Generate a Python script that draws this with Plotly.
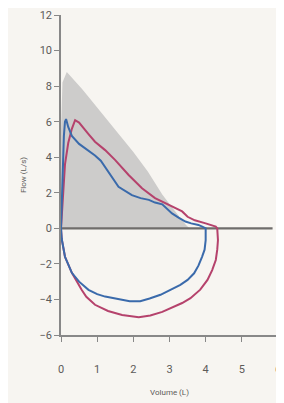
import plotly.graph_objects as go

# Predicted (normal) envelope - gray area
pred_vol = [0, 0.0, 0.04, 0.16, 0.6, 1.0, 1.5, 2.0, 2.4, 2.8, 3.1, 3.3, 3.45, 3.55]
pred_flow = [0, 5.5, 8.2, 8.8, 7.8, 6.8, 5.6, 4.3, 3.2, 1.9, 1.1, 0.55, 0.2, 0]

# Blue loop
blue_vol = [0, 0.02, 0.05, 0.08, 0.11, 0.14, 0.2, 0.3, 0.5, 0.76, 0.94, 1.1, 1.31, 1.59, 1.96,
            2.2, 2.43, 2.6, 2.8, 3.07, 3.25, 3.44, 3.6, 3.8, 3.92, 4.0,
            4.0, 3.97, 3.9, 3.8, 3.68, 3.5, 3.3, 3.0, 2.75, 2.45, 2.19, 1.9, 1.6, 1.22, 1.0,
            0.76, 0.5, 0.3, 0.11, 0.02, 0]
blue_flow = [0, 1.5, 3.5, 5.2, 6.0, 6.15, 5.7, 5.2, 4.75, 4.35, 4.1, 3.8, 3.2, 2.34, 1.87,
             1.7, 1.6, 1.45, 1.35, 0.84, 0.6, 0.38, 0.28, 0.19, 0.08, 0,
             -0.66, -1.2, -1.6, -2.1, -2.53, -2.9, -3.18, -3.5, -3.74, -3.95, -4.1, -4.1, -4.0,
             -3.84, -3.7, -3.46, -3.0, -2.5, -1.6, -0.6, 0]

# Red loop
red_vol = [0, 0.05, 0.11, 0.2, 0.3, 0.39, 0.5, 0.76, 0.94, 1.22, 1.5, 1.87, 2.24, 2.6, 2.9,
           3.17, 3.35, 3.5, 3.7, 4.0, 4.14, 4.28, 4.32,
           4.34, 4.32, 4.28, 4.18, 4.05, 3.85, 3.58, 3.35, 3.12, 2.8, 2.47, 2.15, 1.69, 1.3,
           0.94, 0.7, 0.57, 0.4, 0.3, 0.11, 0.02, 0]
red_flow = [0, 2.0, 3.6, 4.8, 5.6, 6.08, 5.95, 5.3, 4.87, 4.4, 3.84, 3.0, 2.25, 1.7, 1.4,
            1.12, 0.95, 0.65, 0.45, 0.28, 0.2, 0.1, 0,
            -0.66, -1.2, -1.78, -2.35, -2.9, -3.45, -3.93, -4.2, -4.4, -4.7, -4.9, -5.0, -4.87,
            -4.65, -4.3, -3.85, -3.46, -2.9, -2.5, -1.6, -0.6, 0]

baseline_vol = [0, 5.85]
baseline_flow = [0, 0]

x_ticks = [0, 1, 2, 3, 4, 5, 6]
y_ticks = [-6, -4, -2, 0, 2, 4, 6, 8, 10, 12]

BG = "#f7f5f1"
FONT = "Liberation Sans Narrow, Roboto, Arial Narrow, sans-serif"

fig = go.Figure()
fig.add_trace(go.Scatter(x=pred_vol, y=pred_flow, fill="toself", fillcolor="#cdcccb",
                         line=dict(width=0), mode="lines", hoverinfo="skip"))
fig.add_trace(go.Scatter(x=baseline_vol, y=baseline_flow, mode="lines",
                         line=dict(color="#6f6d6b", width=2.2)))
fig.add_trace(go.Scatter(x=red_vol, y=red_flow, mode="lines",
                         line=dict(color="#b5426c", width=2)))
fig.add_trace(go.Scatter(x=blue_vol, y=blue_flow, mode="lines",
                         line=dict(color="#3a6aab", width=2)))

fig.update_layout(
    width=276, height=395,
    margin=dict(l=53, r=6, t=7, b=68),
    paper_bgcolor=BG, plot_bgcolor=BG,
    showlegend=False,
    font=dict(family=FONT, color="#5d5b59", size=11),
)
fig.update_xaxes(range=[0, 6], tickvals=x_ticks, ticks="outside", ticklen=5,
                 tickcolor="#888", showline=True, linecolor="#888", linewidth=1.5,
                 showgrid=False, zeroline=False, ticklabelstandoff=18, automargin=False,
                 title=dict(text="Volume (L)", font=dict(size=8), standoff=14))
fig.update_yaxes(range=[-6, 12], tickvals=y_ticks, ticks="outside", ticklen=5,
                 tickcolor="#888", showline=True, linecolor="#888", linewidth=1.5,
                 showgrid=False, zeroline=False, automargin=False,
                 title=dict(text="Flow (L/s)", font=dict(size=8), standoff=12))

fig.write_html("out.html")
